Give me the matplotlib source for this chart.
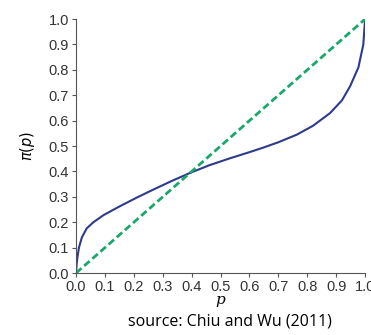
import matplotlib.pyplot as plt
import numpy as np

# probability weighting curve
p_vals = [0.0, 0.002, 0.005, 0.01, 0.02, 0.037, 0.06, 0.095, 0.15, 0.21, 0.27,
          0.33, 0.394, 0.46, 0.533, 0.6, 0.648, 0.70, 0.764, 0.82, 0.879, 0.92,
          0.948, 0.977, 0.994, 1.0]
pi_vals = [0.0, 0.035, 0.064, 0.10, 0.14, 0.176, 0.20, 0.228, 0.262, 0.297, 0.33,
           0.362, 0.394, 0.424, 0.452, 0.476, 0.494, 0.515, 0.545, 0.58, 0.63, 0.68,
           0.735, 0.81, 0.90, 1.0]
diag = [0.0, 1.0]

fig = plt.figure(figsize=(3.71, 3.35), dpi=100)
ax = fig.add_axes([0.205, 0.185, 0.779, 0.758])

ax.plot(p_vals, pi_vals, color="#2e3a8c", lw=1.5, solid_capstyle="round",
        solid_joinstyle="round")
ax.plot(diag, diag, color="#1aa86a", lw=2.0, ls=(0, (2.6, 1.3)))

ax.set_xlim(0, 1)
ax.set_ylim(0, 1)
ticks = np.round(np.arange(0, 1.01, 0.1), 1)
ax.set_xticks(ticks)
ax.set_yticks(ticks)
ax.set_xticklabels([f"{t:.1f}" for t in ticks])
ax.set_yticklabels([f"{t:.1f}" for t in ticks])
ax.tick_params(labelsize=10.5, length=3, width=0.8, color="#555555",
               labelcolor="#333333", pad=2)
for lab in ax.get_xticklabels() + ax.get_yticklabels():
    lab.set_family("Liberation Sans")

for side in ["top", "right"]:
    ax.spines[side].set_visible(False)
for side in ["left", "bottom"]:
    ax.spines[side].set_color("#555555")
    ax.spines[side].set_linewidth(0.8)

ax.set_xlabel("p", fontsize=11, style="italic", family="DejaVu Serif", labelpad=-1)
ax.set_ylabel(r"$\pi(p)$", fontsize=10.5, labelpad=8)

fig.text(0.62, 0.039, "source: Chiu and Wu (2011)", fontsize=11.5,
         family="Open Sans", ha="center", va="center")

fig.savefig("out.png", dpi=100)
